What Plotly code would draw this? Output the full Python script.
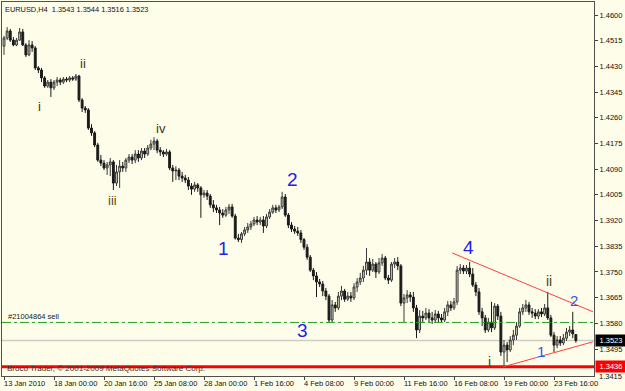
import plotly.graph_objects as go

# ---------------- data (EURUSD H4, bar index 0..183) ----------------
bar_index = list(range(184))

open_ = [1.4497,1.4524,1.4547,1.4517,1.4501,1.4517,1.4544,1.4501,1.4468,1.4501,
         1.4491,1.4425,1.4418,1.4392,1.4365,1.4378,1.4359,1.4378,1.4385,1.4378,
         1.4388,1.4385,1.4392,1.4388,1.4398,1.4319,1.4292,1.4286,1.4226,1.4210,
         1.4170,1.4120,1.4110,1.4094,1.4104,1.4114,1.4044,1.4081,1.4100,1.4094,
         1.4120,1.4130,1.4120,1.4140,1.4127,1.4150,1.4140,1.4160,1.4173,1.4183,
         1.4153,1.4147,1.4140,1.4147,1.4094,1.4084,1.4087,1.4067,1.4061,1.4054,
         1.4034,1.4024,1.4038,1.4028,1.4005,1.4011,1.4001,1.3972,1.3962,1.3955,
         1.3945,1.3938,1.3955,1.3965,1.3935,1.3862,1.3857,1.3876,1.3889,1.3899,
         1.3909,1.3922,1.3915,1.3922,1.3902,1.3932,1.3948,1.3962,1.3955,1.3965,
         1.3998,1.3938,1.3905,1.3892,1.3885,1.3879,1.3857,1.3832,1.3799,1.3756,
         1.3737,1.3717,1.3710,1.3687,1.3670,1.3591,1.3641,1.3631,1.3670,1.3687,
         1.3660,1.3670,1.3664,1.3700,1.3717,1.3730,1.3756,1.3783,1.3756,1.3776,
         1.3750,1.3780,1.3796,1.3730,1.3723,1.3776,1.3783,1.3770,1.3647,1.3664,
         1.3674,1.3667,1.3631,1.3558,1.3604,1.3598,1.3614,1.3598,1.3591,1.3611,
         1.3598,1.3591,1.3618,1.3641,1.3631,1.3651,1.3756,1.3763,1.3753,1.3763,
         1.3743,1.3707,1.3684,1.3618,1.3598,1.3558,1.3584,1.3565,1.3637,1.3604,
         1.3485,1.3508,1.3492,1.3525,1.3541,1.3571,1.3618,1.3631,1.3641,1.3618,
         1.3614,1.3604,1.3618,1.3611,1.3631,1.3598,1.3541,1.3508,1.3525,1.3515,
         1.3531,1.3551,1.3558,1.3543]

high = [1.4531,1.4560,1.4554,1.4527,1.4524,1.4557,1.4554,1.4507,1.4517,1.4514,
        1.4497,1.4431,1.4425,1.4398,1.4385,1.4388,1.4385,1.4395,1.4392,1.4395,
        1.4395,1.4398,1.4398,1.4405,1.4402,1.4325,1.4299,1.4292,1.4239,1.4216,
        1.4177,1.4137,1.4120,1.4114,1.4127,1.4120,1.4104,1.4120,1.4114,1.4127,
        1.4140,1.4140,1.4153,1.4153,1.4160,1.4160,1.4170,1.4187,1.4196,1.4190,
        1.4163,1.4153,1.4157,1.4153,1.4104,1.4100,1.4094,1.4081,1.4071,1.4064,
        1.4044,1.4048,1.4044,1.4034,1.4021,1.4021,1.4008,1.3988,1.3972,1.3965,
        1.3958,1.3965,1.3975,1.3975,1.3942,1.3876,1.3882,1.3899,1.3912,1.3919,
        1.3932,1.3935,1.3932,1.3935,1.3942,1.3958,1.3972,1.3972,1.3972,1.4015,
        1.4008,1.3945,1.3915,1.3902,1.3899,1.3889,1.3862,1.3842,1.3806,1.3763,
        1.3750,1.3727,1.3720,1.3697,1.3677,1.3657,1.3651,1.3684,1.3704,1.3694,
        1.3684,1.3684,1.3713,1.3730,1.3747,1.3770,1.3829,1.3796,1.3793,1.3783,
        1.3796,1.3809,1.3803,1.3740,1.3783,1.3796,1.3799,1.3776,1.3677,1.3690,
        1.3684,1.3684,1.3641,1.3624,1.3621,1.3631,1.3627,1.3618,1.3624,1.3621,
        1.3611,1.3631,1.3654,1.3654,1.3664,1.3770,1.3776,1.3773,1.3773,1.3783,
        1.3763,1.3717,1.3697,1.3631,1.3608,1.3598,1.3651,1.3647,1.3644,1.3618,
        1.3525,1.3518,1.3538,1.3558,1.3584,1.3631,1.3644,1.3657,1.3651,1.3631,
        1.3627,1.3627,1.3631,1.3644,1.3684,1.3608,1.3551,1.3538,1.3538,1.3545,
        1.3565,1.3571,1.3618,1.3544]

low = [1.4468,1.4517,1.4511,1.4497,1.4497,1.4514,1.4497,1.4461,1.4464,1.4478,
       1.4418,1.4408,1.4378,1.4359,1.4359,1.4329,1.4352,1.4365,1.4368,1.4372,
       1.4378,1.4378,1.4382,1.4382,1.4312,1.4279,1.4276,1.4220,1.4200,1.4163,
       1.4114,1.4100,1.4087,1.4071,1.4067,1.4021,1.4034,1.4028,1.4081,1.4081,
       1.4110,1.4107,1.4110,1.4114,1.4120,1.4127,1.4134,1.4153,1.4153,1.4143,
       1.4134,1.4130,1.4134,1.4087,1.4048,1.4054,1.4054,1.4048,1.4044,1.4021,
       1.4005,1.4015,1.4015,1.3929,1.3995,1.3988,1.3962,1.3948,1.3945,1.3905,
       1.3929,1.3932,1.3942,1.3929,1.3857,1.3849,1.3846,1.3869,1.3879,1.3889,
       1.3902,1.3905,1.3905,1.3879,1.3895,1.3925,1.3942,1.3945,1.3948,1.3958,
       1.3932,1.3895,1.3882,1.3876,1.3869,1.3846,1.3823,1.3790,1.3750,1.3723,
       1.3667,1.3700,1.3670,1.3657,1.3581,1.3584,1.3618,1.3624,1.3657,1.3651,
       1.3654,1.3651,1.3657,1.3684,1.3707,1.3717,1.3740,1.3737,1.3750,1.3730,
       1.3743,1.3770,1.3723,1.3710,1.3717,1.3763,1.3756,1.3637,1.3584,1.3647,
       1.3651,1.3618,1.3531,1.3548,1.3584,1.3591,1.3584,1.3578,1.3584,1.3584,
       1.3581,1.3584,1.3604,1.3621,1.3624,1.3641,1.3743,1.3743,1.3743,1.3733,
       1.3700,1.3670,1.3608,1.3571,1.3548,1.3551,1.3551,1.3558,1.3591,1.3472,
       1.3436,1.3452,1.3485,1.3508,1.3525,1.3565,1.3608,1.3618,1.3608,1.3598,
       1.3594,1.3594,1.3601,1.3604,1.3591,1.3535,1.3485,1.3498,1.3505,1.3508,
       1.3522,1.3538,1.3531,1.3516]

close = [1.4524,1.4547,1.4517,1.4501,1.4517,1.4544,1.4501,1.4468,1.4501,1.4491,
         1.4425,1.4418,1.4392,1.4365,1.4378,1.4359,1.4378,1.4385,1.4378,1.4388,
         1.4385,1.4392,1.4388,1.4398,1.4319,1.4292,1.4286,1.4226,1.4210,1.4170,
         1.4120,1.4110,1.4094,1.4104,1.4114,1.4044,1.4081,1.4100,1.4094,1.4120,
         1.4130,1.4120,1.4140,1.4127,1.4150,1.4140,1.4160,1.4173,1.4183,1.4153,
         1.4147,1.4140,1.4147,1.4094,1.4084,1.4087,1.4067,1.4061,1.4054,1.4034,
         1.4024,1.4038,1.4028,1.4005,1.4011,1.4001,1.3972,1.3962,1.3955,1.3945,
         1.3938,1.3955,1.3965,1.3935,1.3862,1.3857,1.3876,1.3889,1.3899,1.3909,
         1.3922,1.3915,1.3922,1.3902,1.3932,1.3948,1.3962,1.3955,1.3965,1.3998,
         1.3938,1.3905,1.3892,1.3885,1.3879,1.3857,1.3832,1.3799,1.3756,1.3737,
         1.3717,1.3710,1.3687,1.3670,1.3591,1.3641,1.3631,1.3670,1.3687,1.3660,
         1.3670,1.3664,1.3700,1.3717,1.3730,1.3756,1.3783,1.3756,1.3776,1.3750,
         1.3780,1.3796,1.3730,1.3723,1.3776,1.3783,1.3770,1.3647,1.3664,1.3674,
         1.3667,1.3631,1.3558,1.3604,1.3598,1.3614,1.3598,1.3591,1.3611,1.3598,
         1.3591,1.3618,1.3641,1.3631,1.3651,1.3756,1.3763,1.3753,1.3763,1.3743,
         1.3707,1.3684,1.3618,1.3598,1.3558,1.3584,1.3565,1.3637,1.3604,1.3485,
         1.3508,1.3492,1.3525,1.3541,1.3571,1.3618,1.3631,1.3641,1.3618,1.3614,
         1.3604,1.3618,1.3611,1.3631,1.3598,1.3541,1.3508,1.3525,1.3515,1.3531,
         1.3551,1.3558,1.3545,1.3523]

x_tick_bars = [0, 16, 32, 48, 64, 80, 96, 112, 128, 144, 160, 176]
x_tick_labels = ["13 Jan 2010", "18 Jan 00:00", "20 Jan 16:00", "25 Jan 08:00",
                 "28 Jan 00:00", "1 Feb 16:00", "4 Feb 08:00", "9 Feb 00:00",
                 "11 Feb 16:00", "16 Feb 08:00", "19 Feb 00:00", "23 Feb 16:00"]
y_tick_vals = [1.4600, 1.4515, 1.4430, 1.4345, 1.4260, 1.4175, 1.4090, 1.4005,
               1.3920, 1.3835, 1.3750, 1.3665, 1.3580, 1.3495]
y_bottom_label = 1.3415

bid_price = 1.3523
alert_price = 1.3436
order_price = 1.3583

# wave labels: (text, bar, price, size, color)
wave_labels = [
    ("i", 11.5, 1.4296, 13, "#3a3520"), ("ii", 25.3, 1.4441, 13, "#3a3520"),
    ("iii", 34.6, 1.3985, 13, "#5a4a1a"), ("iv", 50.2, 1.4226, 13, "#3a3520"),
    ("1", 70.1, 1.3829, 19, "#2222ee"), ("2", 92.2, 1.4057, 19, "#2222ee"),
    ("3", 95.4, 1.3557, 19, "#2222ee"), ("4", 148.5, 1.3832, 19, "#2222ee"),
    ("ii", 174.4, 1.3720, 14, "#4a4220"), ("2", 182.4, 1.3657, 15, "#3355ee"),
    ("1", 171.8, 1.3488, 15, "#3355ee"), ("i", 155.5, 1.3451, 14, "#4a4220"),
]

upper_line_bars = [143.4, 188.5]
upper_line_prices = [1.3813, 1.3618]
lower_line_bars = [159.7, 188.5]
lower_line_prices = [1.3436, 1.3519]

FONT = "Liberation Sans, Arial, sans-serif"
BG = "#FDFDE9"

fig = go.Figure()
fig.add_trace(go.Candlestick(
    x=bar_index, open=open_, high=high, low=low, close=close,
    increasing=dict(line=dict(color="#3a3a3a", width=1), fillcolor="#cdd3b8"),
    decreasing=dict(line=dict(color="#1a1a1a", width=1), fillcolor="#1a1a1a"),
    whiskerwidth=0, showlegend=False, hoverinfo="skip"))

shapes = []
shapes.append(dict(type="line", xref="paper", x0=0, x1=1, yref="y",
                   y0=bid_price, y1=bid_price, line=dict(color="#cfcfc8", width=1.5), layer="below"))
shapes.append(dict(type="line", xref="paper", x0=0, x1=1, yref="y",
                   y0=order_price, y1=order_price, line=dict(color="#22a022", width=1, dash="dashdot")))
shapes.append(dict(type="line", xref="paper", x0=0, x1=1, yref="y",
                   y0=alert_price, y1=alert_price, line=dict(color="#ff0000", width=3)))
shapes.append(dict(type="line", xref="x", yref="y", x0=upper_line_bars[0], x1=upper_line_bars[1],
                   y0=upper_line_prices[0], y1=upper_line_prices[1], line=dict(color="#ff4040", width=1)))
shapes.append(dict(type="line", xref="x", yref="y", x0=lower_line_bars[0], x1=lower_line_bars[1],
                   y0=lower_line_prices[0], y1=lower_line_prices[1], line=dict(color="#ff4040", width=1)))

ann = []
for t, b, p, s, c in wave_labels:
    ann.append(dict(x=b, y=p, xref="x", yref="y", text=t, showarrow=False,
                    font=dict(family=FONT, size=s, color=c), xanchor="center", yanchor="middle"))
for b, lab in zip(x_tick_bars, x_tick_labels):
    ann.append(dict(x=b, y=0, xref="x", yref="paper", text=lab, showarrow=False,
                    xanchor="left", yanchor="top", xshift=-2, yshift=-1,
                    font=dict(family=FONT, size=7.5, color="#111111")))
ann.append(dict(x=0, y=1, xref="paper", yref="paper", text="EURUSD,H4  1.3543 1.3544 1.3516 1.3523",
                showarrow=False, xanchor="left", yanchor="top", xshift=1, yshift=-1,
                font=dict(family=FONT, size=7.4, color="#111111")))
ann.append(dict(x=0, y=order_price, xref="paper", yref="y", text="#21004864 sell",
                showarrow=False, xanchor="left", yanchor="bottom", xshift=4, yshift=-1,
                font=dict(family=FONT, size=7.5, color="#222222")))
ann.append(dict(x=0, y=alert_price, xref="paper", yref="y",
                text="Broco Trader, © 2001-2009 MetaQuotes Software Corp.",
                showarrow=False, xanchor="left", yanchor="middle", xshift=3, yshift=-2,
                font=dict(family=FONT, size=8, color="#333333")))
# bottom price label of the right scale (placed just below the alert box)
ann.append(dict(x=1, y=y_bottom_label, xref="paper", yref="y", text=f"{y_bottom_label:.4f}",
                showarrow=False, xanchor="left", yanchor="middle", xshift=3, yshift=-3,
                font=dict(family=FONT, size=7.5, color="#111111")))
# price boxes on the right axis
ann.append(dict(x=1, y=bid_price, xref="paper", yref="y", text="1.3523", showarrow=False,
                xanchor="left", yanchor="middle", xshift=1, bgcolor="#000000", width=28, height=9,
                font=dict(family=FONT, size=7.5, color="#ffffff")))
ann.append(dict(x=1, y=alert_price, xref="paper", yref="y", text="1.3436", showarrow=False,
                xanchor="left", yanchor="middle", xshift=1, bgcolor="#ff0000", width=28, height=9,
                font=dict(family=FONT, size=7.5, color="#ffffff")))

fig.update_layout(
    width=625, height=391,
    margin=dict(l=2, r=31, t=2, b=15),
    paper_bgcolor=BG, plot_bgcolor=BG,
    shapes=shapes, annotations=ann,
    hovermode=False, showlegend=False, boxgap=0.15,
    xaxis=dict(range=[-0.64, 188.8], rangeslider=dict(visible=False),
               tickvals=x_tick_bars, showticklabels=False, ticks="outside", ticklen=3,
               tickcolor="#404040", showgrid=False, zeroline=False,
               showline=True, linecolor="#505050", linewidth=1, mirror=True),
    yaxis=dict(range=[1.34058, 1.46430], side="right",
               tickvals=y_tick_vals, ticktext=[f"{v:.4f}" for v in y_tick_vals],
               ticks="outside", ticklen=3, tickcolor="#404040",
               tickfont=dict(family=FONT, size=7.5, color="#111111"),
               showgrid=False, zeroline=False,
               showline=True, linecolor="#505050", linewidth=1, mirror=True),
)

fig.write_html("out.html")
